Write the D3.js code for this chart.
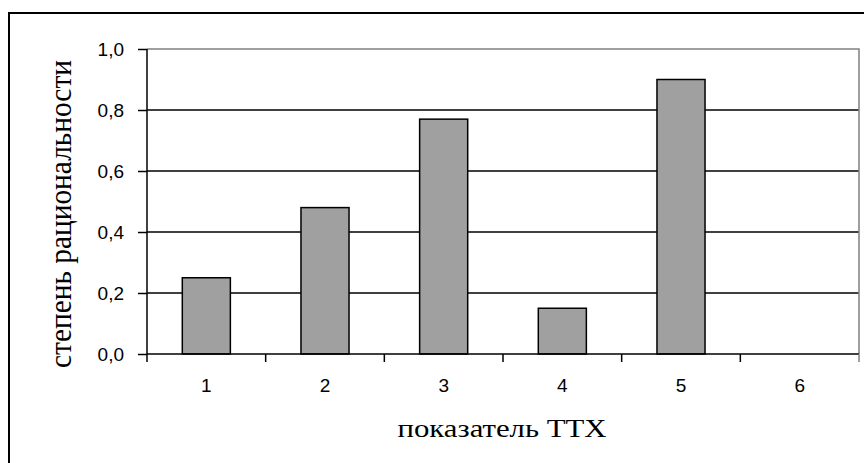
<!DOCTYPE html>
<html>
<head>
<meta charset="utf-8">
<script src="https://cdn.jsdelivr.net/npm/d3@7"></script>
<style>
    body { margin: 0; background: #fff; }
    svg { display: block; }
</style>
</head>
<body>
<div id="chart"></div>
<script>

// data
let categories = ["1", "2", "3", "4", "5", "6"];
let values = [0.25, 0.48, 0.77, 0.15, 0.90, 0];
let yTicks = [0, 0.2, 0.4, 0.6, 0.8, 1.0];
let yTickLabels = ["0,0", "0,2", "0,4", "0,6", "0,8", "1,0"];

let W = 864, H = 463;
let margin = {top: 49, right: 5, bottom: 109, left: 147};
let width = W - margin.left - margin.right;
let height = H - margin.top - margin.bottom;

let sansFont = "'Liberation Sans', Arial, sans-serif";
let serifFont = "'Liberation Serif', 'Times New Roman', serif";

let svg = d3.select("#chart").append("svg")
    .attr("width", W)
    .attr("height", H);

// outer frame (runs off right/bottom edge as in the original)
svg.append("rect")
    .attr("x", 9)
    .attr("y", 13)
    .attr("width", W + 20)
    .attr("height", H + 20)
    .attr("fill", "none")
    .attr("stroke", "#000")
    .attr("stroke-width", 2);

let g = svg.append("g")
    .attr("transform", "translate(" + margin.left + "," + margin.top + ")");

let x = d3.scaleBand()
    .domain(categories)
    .range([0, width])
    .paddingInner(0)
    .paddingOuter(0);

let y = d3.scaleLinear()
    .domain([0, 1])
    .range([height, 0]);

// gridlines
g.selectAll("line.grid")
    .data(yTicks.filter(d => d > 0 && d < 1))
    .enter()
    .append("line")
    .attr("class", "grid")
    .attr("x1", 0)
    .attr("x2", width)
    .attr("y1", d => y(d))
    .attr("y2", d => y(d))
    .attr("stroke", "#000")
    .attr("stroke-width", 1.3);

// plot area border top/right (grey)
g.append("path")
    .attr("d", "M0," + y(1) + "H" + width + "V" + y(0))
    .attr("fill", "none")
    .attr("stroke", "#808080")
    .attr("stroke-width", 1.5);

// bars
let barW = x.bandwidth() * 0.405;
g.selectAll("rect.bar")
    .data(values)
    .enter()
    .append("rect")
    .attr("class", "bar")
    .attr("x", (d, i) => x(categories[i]) + (x.bandwidth() - barW) / 2)
    .attr("y", d => y(d))
    .attr("width", barW)
    .attr("height", d => height - y(d))
    .attr("fill", "#a0a0a0")
    .attr("stroke", d => d > 0 ? "#000" : "none")
    .attr("stroke-width", 1.5);

// y axis
let yAxis = d3.axisLeft(y)
    .tickValues(yTicks)
    .tickSize(9)
    .tickPadding(14)
    .tickFormat((d, i) => yTickLabels[i]);

let yG = g.append("g").call(yAxis)
    .attr("font-size", null)
    .attr("font-family", null);
yG.select(".domain").attr("stroke", "#000").attr("stroke-width", 1.5)
    .attr("d", "M0," + y(1) + "V" + y(0));
yG.selectAll(".tick line").attr("stroke", "#000").attr("stroke-width", 1.5);
yG.selectAll(".tick text")
    .attr("dy", "0.36em")
    .style("font-family", sansFont)
    .style("font-size", "19px")
    .style("fill", "#000");

// x axis: ticks at category boundaries
let xG = g.append("g")
    .attr("transform", "translate(0," + height + ")");
xG.append("line")
    .attr("x1", 0).attr("x2", width)
    .attr("stroke", "#000").attr("stroke-width", 1.5);
let bounds = categories.map(c => x(c)).concat([width]);
xG.selectAll("line.xtick")
    .data(bounds)
    .enter()
    .append("line")
    .attr("class", "xtick")
    .attr("x1", d => d).attr("x2", d => d)
    .attr("y1", 0).attr("y2", 8)
    .attr("stroke", (d, i) => i === bounds.length - 1 ? "#808080" : "#000")
    .attr("stroke-width", 1.5);
xG.selectAll("text.xlabel")
    .data(categories)
    .enter()
    .append("text")
    .attr("class", "xlabel")
    .attr("x", d => x(d) + x.bandwidth() / 2)
    .attr("y", 38)
    .attr("text-anchor", "middle")
    .style("font-family", sansFont)
    .style("font-size", "19px")
    .text(d => d);

// axis titles
svg.append("text")
    .attr("x", 502)
    .attr("y", 437)
    .attr("text-anchor", "middle")
    .attr("textLength", 209)
    .attr("lengthAdjust", "spacingAndGlyphs")
    .style("font-family", serifFont)
    .style("font-size", "26px")
    .text("показатель ТТХ");

svg.append("text")
    .attr("transform", "translate(71,214) rotate(-90) scale(1,1.1)")
    .attr("text-anchor", "middle")
    .attr("textLength", 308)
    .attr("lengthAdjust", "spacingAndGlyphs")
    .style("font-family", serifFont)
    .style("font-size", "29px")
    .text("степень рациональности");

</script>
</body>
</html>
